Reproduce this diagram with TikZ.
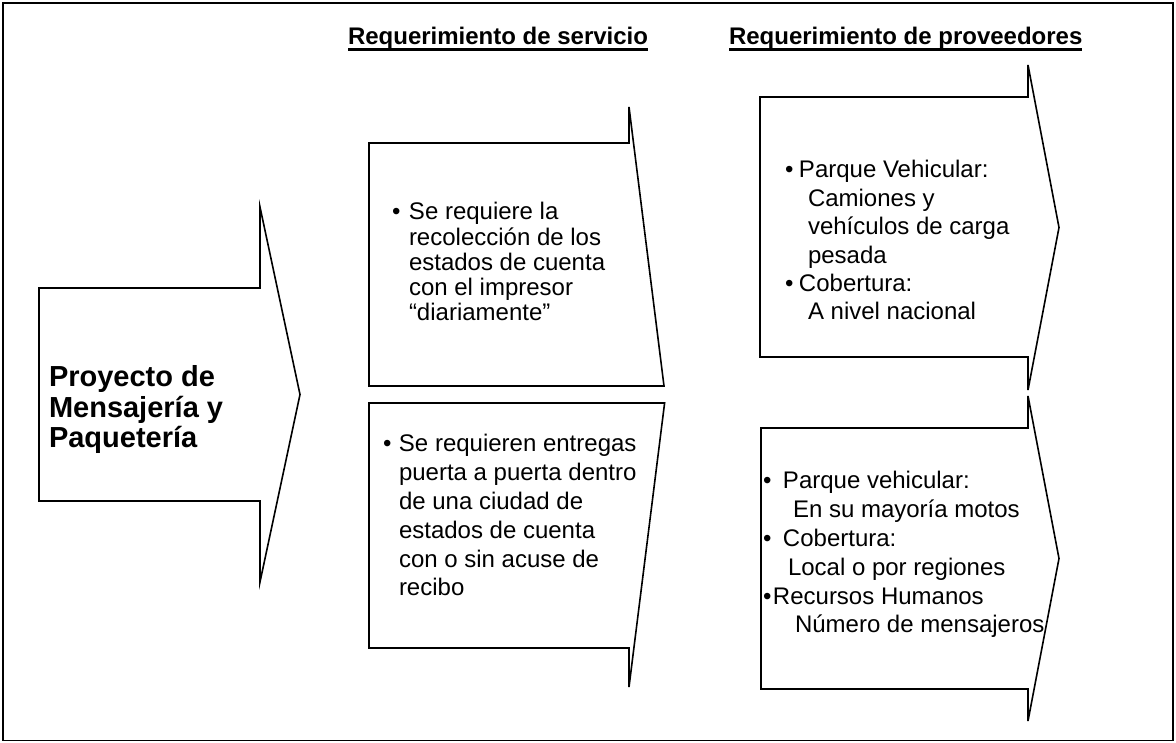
\documentclass[tikz,border=0pt]{standalone}
\usepackage{fontspec}
\setmainfont{Liberation Sans}
\newcommand{\blk}[1]{\begin{tabular}[t]{@{}l@{}}#1\end{tabular}}
\begin{document}
\begin{tikzpicture}[x=1pt,y=-1pt,
  shp/.style={draw=black, line width=1.6pt, line join=miter},
  frame/.style={draw=black, line width=1.6pt},
  txt/.style={anchor=base west, inner sep=0pt, outer sep=0pt, font=\fontsize{24}{29}\selectfont},
  txtb/.style={anchor=base west, inner sep=0pt, outer sep=0pt, font=\fontsize{29}{30.5}\selectfont\bfseries},
  hdr/.style={anchor=base west, inner sep=0pt, outer sep=0pt, font=\fontsize{24}{29}\selectfont\bfseries},
  uline/.style={line width=2.4pt}]
\useasboundingbox (0,0) rectangle (1176,743);
\draw[frame] (3,3) rectangle (1173,740.5);

% headers
\node[hdr] (h1) at (348,45) {Requerimiento de servicio};
\node[hdr] (h2) at (729,45) {Requerimiento de proveedores};
\draw[uline] ([yshift=-4.5pt]h1.base west) -- ([yshift=-4.5pt]h1.base east);
\draw[uline] ([yshift=-4.5pt]h2.base west) -- ([yshift=-4.5pt]h2.base east);

% left arrow
\draw[shp] (39,288) -- (260,288) -- (260,207) -- (300,394.5) -- (260,582) -- (260,501) -- (39,501) -- cycle;
\node[txtb] (proj) at (49,387) {\blk{Proyecto de\\ Mensajería y\\ Paquetería}};

% middle shapes
\draw[shp] (369,143) -- (629,143) -- (629,107) -- (664,386) -- (369,386) -- cycle;
\draw[shp] (369,403) -- (664.6,403) -- (629,687) -- (629,648) -- (369,648) -- cycle;
\node[txt, font=\fontsize{24}{25}\selectfont] (s1) at (392,220) {\blk{\makebox[17pt][l]{\textbullet}Se requiere la\\
 \hspace*{17pt}recolección de los\\
 \hspace*{17pt}estados de cuenta\\
 \hspace*{17pt}con el impresor\\
 \hspace*{17pt}“diariamente”}};
\node[txt] (s2) at (383,451) {\blk{\makebox[16pt][l]{\textbullet}Se requieren entregas\\
 \hspace*{16pt}puerta a puerta dentro\\
 \hspace*{16pt}de una ciudad de\\
 \hspace*{16pt}estados de cuenta\\
 \hspace*{16pt}con o sin acuse de\\
 \hspace*{16pt}recibo}};

% right shapes
\draw[shp] (760,97) -- (1028,97) -- (1028,65) -- (1059,227.5) -- (1028,390) -- (1028,357) -- (760,357) -- cycle;
\draw[shp] (761,428) -- (1028,428) -- (1028,396) -- (1059,558.5) -- (1028,721) -- (1028,689) -- (761,689) -- cycle;
\node[txt, font=\fontsize{24}{28.4}\selectfont] (p1) at (785,178) {\blk{\makebox[14pt][l]{\textbullet}Parque Vehicular:\\
 \hspace*{23pt}Camiones y\\
 \hspace*{23pt}vehículos de carga\\
 \hspace*{23pt}pesada\\
 \makebox[14pt][l]{\textbullet}Cobertura:\\
 \hspace*{23pt}A nivel nacional}};
\node[txt] (p2) at (763,488) {\blk{\makebox[20pt][l]{\textbullet}Parque vehicular:\\
 \hspace*{30pt}En su mayoría motos\\
 \makebox[20pt][l]{\textbullet}Cobertura:\\
 \hspace*{25pt}Local o por regiones\\
 \makebox[10pt][l]{\textbullet}Recursos Humanos\\
 \hspace*{32pt}Número de mensajeros}};
\end{tikzpicture}
\end{document}
